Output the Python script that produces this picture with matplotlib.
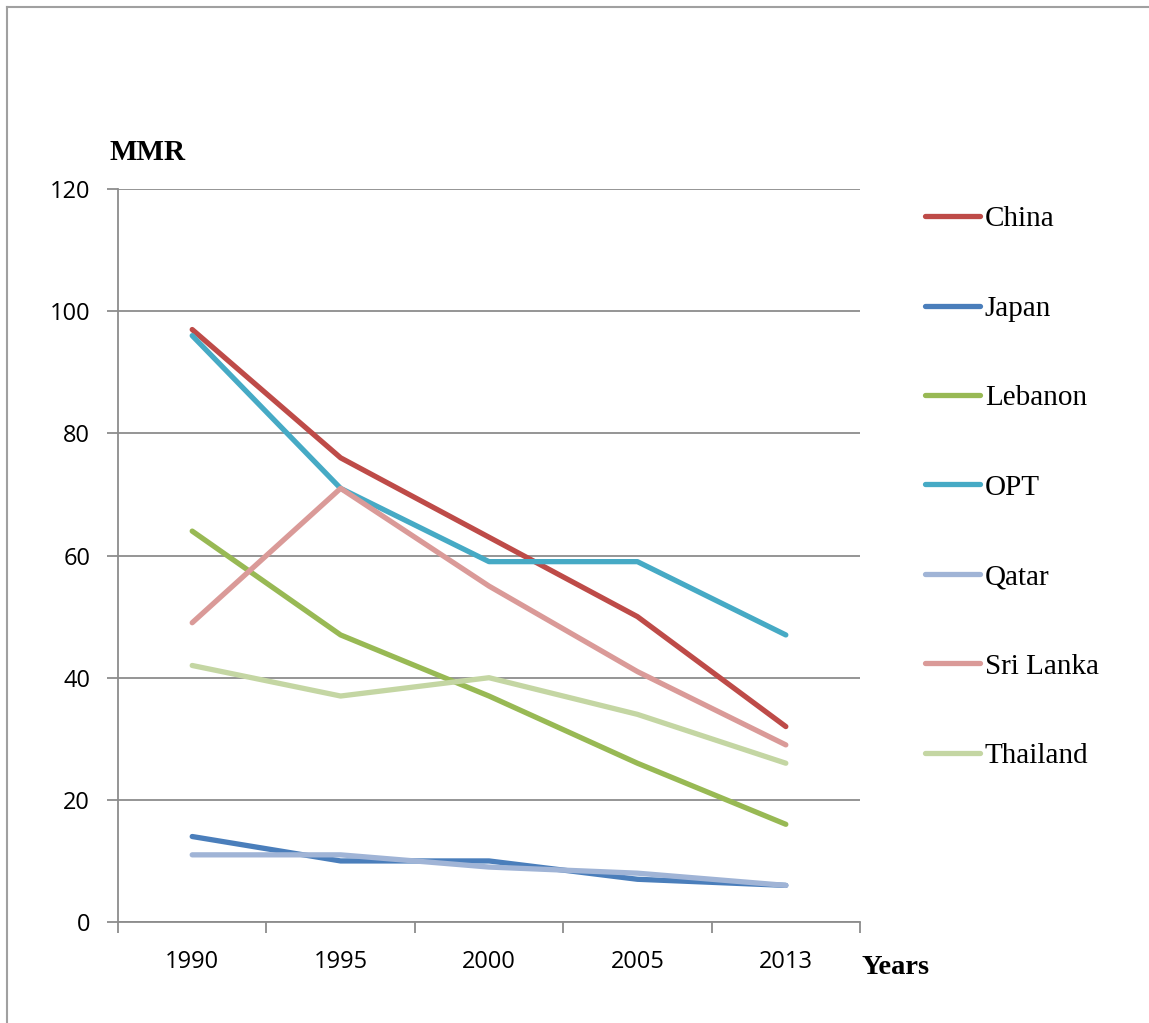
import matplotlib.pyplot as plt
from matplotlib.lines import Line2D
import numpy as np

# MMR by country
years = ["1990", "1995", "2000", "2005", "2013"]
china = [97, 76, 63, 50, 32]
japan = [14, 10, 10, 7, 6]
lebanon = [64, 47, 37, 26, 16]
opt = [96, 71, 59, 59, 47]
qatar = [11, 11, 9, 8, 6]
sri_lanka = [49, 71, 55, 41, 29]
thailand = [42, 37, 40, 34, 26]

series = [
    ("China", china, "#BE4B48"),
    ("Japan", japan, "#4A7EBB"),
    ("Lebanon", lebanon, "#98B954"),
    ("OPT", opt, "#46AAC5"),
    ("Qatar", qatar, "#A0B4D6"),
    ("Sri Lanka", sri_lanka, "#DA9A98"),
    ("Thailand", thailand, "#C4D6A3"),
]

fig = plt.figure(figsize=(11.49, 10.23), dpi=100)
ax = fig.add_axes([0.1027, 0.0987, 0.6458, 0.7165])

x = np.arange(len(years))
for name, vals, color in series:
    ax.plot(x, vals, color=color, lw=3.8, label=name, solid_capstyle="round",
            solid_joinstyle="round")

grey = "#8C8C8C"
ax.set_xlim(-0.5, len(years) - 0.5)
ax.set_ylim(0, 120)
ax.set_yticks(range(0, 121, 20))
ax.yaxis.grid(True, color=grey, lw=1.3)
ax.set_axisbelow(True)

ax.set_xticks(x)
ax.set_xticklabels(years)
ax.set_xticks(np.arange(-0.5, len(years), 1), minor=True)
ax.tick_params(axis="x", which="major", length=0, pad=20)
ax.tick_params(axis="x", which="minor", length=8, width=1.3, color=grey)
ax.tick_params(axis="y", length=8, width=1.3, color=grey, pad=12)
for lab in ax.get_xticklabels() + ax.get_yticklabels():
    lab.set_fontfamily("Open Sans")
    lab.set_fontsize(17)

for side in ["top", "right"]:
    ax.spines[side].set_visible(False)
for side in ["left", "bottom"]:
    ax.spines[side].set_color(grey)
    ax.spines[side].set_linewidth(1.3)

fig.text(110 / 1149, 1 - 153 / 1023, "MMR", family="Liberation Serif",
         weight="bold", fontsize=21, va="center", ha="left")
fig.text(862 / 1149, 1 - 968 / 1023, "Years", family="Liberation Serif",
         weight="bold", fontsize=20.5, va="center", ha="left")

fig.legend(loc="upper left", bbox_to_anchor=(925 / 1149, 1 - 206 / 1023),
           frameon=False, prop={"family": "Liberation Serif", "size": 21},
           handlelength=1.88, handletextpad=0.17, labelspacing=2.16,
           borderpad=0, borderaxespad=0)

# outer frame
fig.add_artist(Line2D([7 / 1149, 7 / 1149], [0, 1 - 7 / 1023],
                      transform=fig.transFigure, color="#A0A0A0", lw=1.5))
fig.add_artist(Line2D([7 / 1149, 1], [1 - 7 / 1023, 1 - 7 / 1023],
                      transform=fig.transFigure, color="#A0A0A0", lw=1.5))

fig.savefig("out.png", dpi=100)
